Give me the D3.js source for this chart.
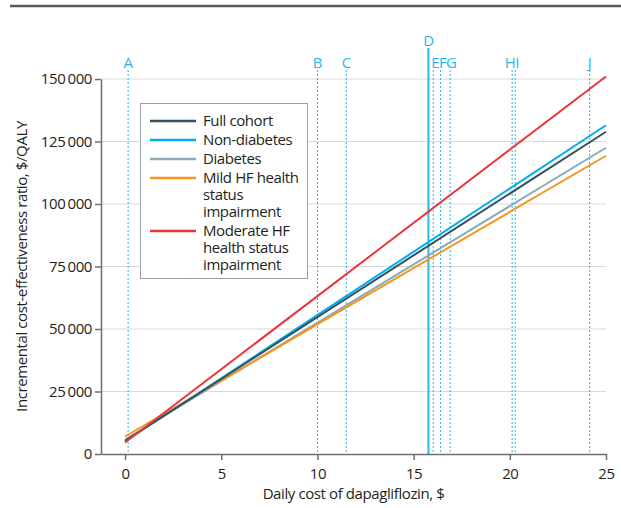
<!DOCTYPE html>
<html>
<head>
<meta charset="utf-8">
<script src="https://d3js.org/d3.v7.min.js"></script>
<style>
  body { margin: 0; background: #fff; }
  svg text { font-family: "Open Sans", "Noto Sans", sans-serif; fill: #231f20; letter-spacing: -0.4px; }
</style>
</head>
<body>
<div id="chart"></div>
<script>
// series: ICER at daily cost 0 and 25
const costs = [0, 25];
const seriesNames = ["Full cohort", "Non-diabetes", "Diabetes", "Mild HF health status impairment", "Moderate HF health status impairment"];
const fullCohort = [5300, 128900];
const nonDiabetes = [5000, 131500];
const diabetes = [5800, 122500];
const mildHF = [7000, 119300];
const moderateHF = [4600, 151000];
const seriesColors = ["#33505b", "#00aeef", "#8aaab8", "#f7941d", "#e8363a"];
const legendLines = [["Full cohort"], ["Non-diabetes"], ["Diabetes"], ["Mild HF health", "status", "impairment"], ["Moderate HF", "health status", "impairment"]];

// reference price markers
const markerLabels = ["A", "B", "C", "D", "E", "F", "G", "H", "I", "J"];
const markerCosts = [0.16, 10.0, 11.5, 15.77, 16.02, 16.4, 16.9, 20.12, 20.28, 24.15];
const labelNudge = [0, 0, 0, 0, 2, 2, 1, -2, 2, 0];

const xTicks = [0, 5, 10, 15, 20, 25];
const yTicks = [0, 25000, 50000, 75000, 100000, 125000, 150000];

const W = 621, H = 508;
const svg = d3.select('#chart').append('svg').attr('width', W).attr('height', H);

const x = d3.scaleLinear().domain([-1.25, 25]).range([101, 606]);
const y = d3.scaleLinear().domain([0, 150000]).range([454, 79]);

// top rule
svg.append('line').attr('x1', 10).attr('x2', W).attr('y1', 6).attr('y2', 6)
  .attr('stroke', '#58595b').attr('stroke-width', 2.5);

// gridlines
svg.append('g').selectAll('line').data(yTicks.slice(1)).enter().append('line')
  .attr('x1', x(-1.25)).attr('x2', x(25))
  .attr('y1', d => y(d)).attr('y2', d => y(d))
  .attr('stroke', '#d9d9d9').attr('stroke-width', 1);

// marker lines
const markers = svg.append('g');
markerLabels.forEach((lab, i) => {
  const solid = lab === 'D';
  markers.append('line')
    .attr('x1', x(markerCosts[i])).attr('x2', x(markerCosts[i]))
    .attr('y1', solid ? 48 : 70).attr('y2', y(0))
    .attr('stroke', '#29b6ec')
    .attr('stroke-width', solid ? 2 : 1)
    .attr('stroke-dasharray', solid ? null : '2,2');
  markers.append('text')
    .attr('x', x(markerCosts[i]) + labelNudge[i])
    .attr('y', solid ? 46 : 68)
    .attr('text-anchor', 'middle')
    .style('fill', '#29b6ec')
    .style('font-size', '15px')
    .text(lab);
});

// axes
const xAxis = svg.append('g').attr('transform', `translate(0,${y(0)})`)
  .call(d3.axisBottom(x).tickValues(xTicks).tickSize(6).tickSizeOuter(0).tickFormat(d3.format('d')));
const yAxis = svg.append('g').attr('transform', `translate(${x(-1.25)},0)`)
  .call(d3.axisLeft(y).tickValues(yTicks).tickSize(6).tickSizeOuter(0)
    .tickFormat(d => d3.format(',')(d).replace(/,/g, '\u2009')));
[xAxis, yAxis].forEach(a => {
  a.select('.domain').attr('stroke', '#6d6e71').attr('stroke-width', 1.5);
  a.selectAll('.tick line').attr('stroke', '#6d6e71').attr('stroke-width', 1.5);
  a.selectAll('.tick text').style('font-size', '15px').style('font-family', '"Open Sans", sans-serif').attr('fill', '#231f20');
});
xAxis.selectAll('.tick text').attr('dy', '1.05em');
yAxis.selectAll('.tick text').attr('x', -9);

// axis titles
svg.append('text').attr('x', (x(-1.25) + x(25)) / 2).attr('y', 499)
  .attr('text-anchor', 'middle').style('font-size', '15px')
  .text('Daily cost of dapagliflozin, $');
svg.append('text').attr('transform', `translate(27,${(y(0) + y(150000)) / 2}) rotate(-90)`)
  .attr('text-anchor', 'middle').style('font-size', '15px')
  .text('Incremental cost-effectiveness ratio, $/QALY');

// series lines
const allSeries = [fullCohort, nonDiabetes, diabetes, mildHF, moderateHF];
const line = d3.line().x((d, i) => x(costs[i])).y(d => y(d));
const drawOrder = [2, 3, 1, 0, 4];
drawOrder.forEach(k => {
  svg.append('path').datum(allSeries[k])
    .attr('d', line).attr('fill', 'none')
    .attr('stroke', seriesColors[k]).attr('stroke-width', 2);
});

// legend
const lg = svg.append('g');
lg.append('rect').attr('x', 140.5).attr('y', 103.5).attr('width', 167).attr('height', 175)
  .attr('fill', '#fff').attr('stroke', '#9d9fa2').attr('stroke-width', 1);
let rowY = 121;
seriesNames.forEach((name, k) => {
  lg.append('line').attr('x1', 150).attr('x2', 196).attr('y1', rowY).attr('y2', rowY)
    .attr('stroke', seriesColors[k]).attr('stroke-width', 2.5);
  legendLines[k].forEach((t, j) => {
    lg.append('text').attr('x', 203).attr('y', rowY + 5 + j * 17)
      .style('font-size', '15px').text(t);
  });
  rowY += legendLines[k].length * 17 + 2;
});
</script>
</body>
</html>
